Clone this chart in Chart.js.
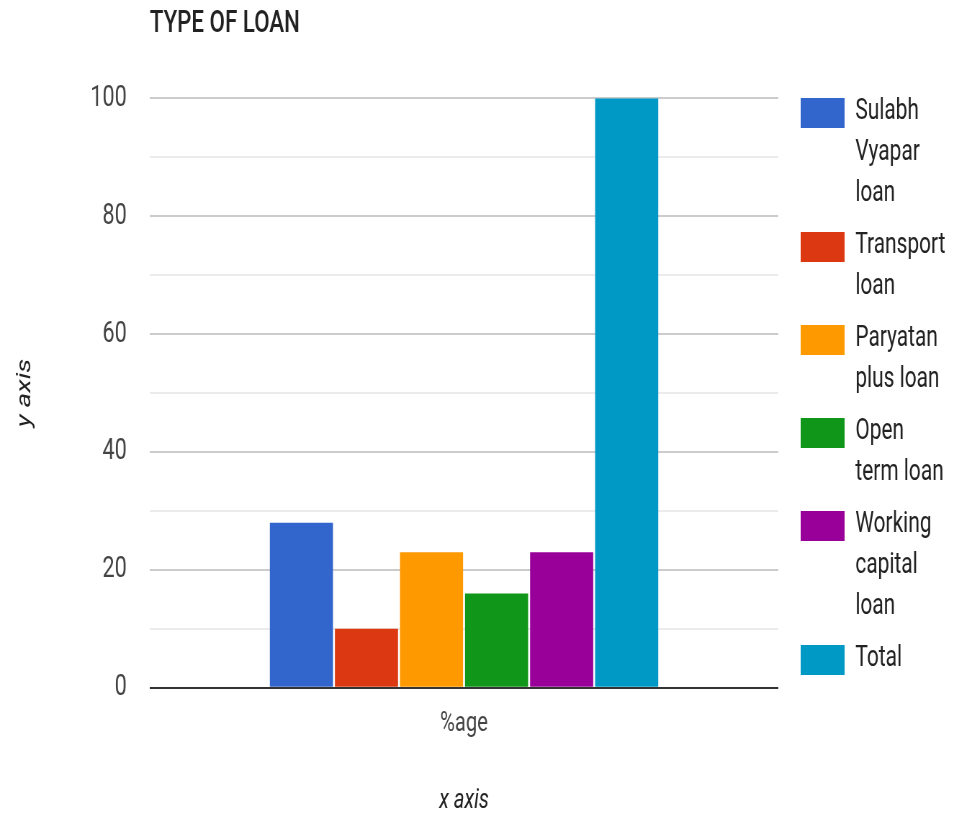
<!DOCTYPE html>
<html>
<head>
<meta charset="utf-8">
<title>Type of loan</title>
<script src="https://cdn.jsdelivr.net/npm/chart.js@4"></script>
<style>
    html, body { margin: 0; padding: 0; background: #fff; overflow: hidden; }
    /* chart is laid out wide, then squeezed to give the narrow lettering */
    #wrap { width: 1324px; height: 818px; transform: scaleX(0.72); transform-origin: 0 0; }
</style>
</head>
<body>
<div id="wrap"><canvas id="loanChart" width="1324" height="818"></canvas></div>
<script>
const categories = ["%age"];
const loan_types = ["Sulabh Vyapar loan", "Transport loan", "Paryatan plus loan", "Open term loan", "Working capital loan", "Total"];
const loan_share = [28, 10, 23, 16, 23, 100];
const bar_colors = ["#3366cc", "#dc3912", "#ff9900", "#109618", "#990099", "#0099c6"];
const y_labels = [0, 20, 40, 60, 80, 100];

// greedy word wrap for the legend text
function wrap_words(ctx, text, maxWidth)
{
    const words = text.split(" ");
    const lines = [];
    let line = "";
    for (let i = 0; i < words.length; i++)
    {
        const test = line ? line + " " + words[i] : words[i];
        if (line && ctx.measureText(test).width > maxWidth)
        {
            lines.push(line);
            line = words[i];
        }
        else
        {
            line = test;
        }
    }
    if (line) lines.push(line);
    return lines;
}

// legend on the right, with labels wrapped over several lines
const side_legend = {
    id: 'side_legend',
    afterDraw(chart) {
        const ctx = chart.ctx;
        const boxX = chart.chartArea.right + 31;
        const textX = boxX + 76;
        const lineH = 41;
        let y = 112;

        ctx.save();
        ctx.font = "29px Roboto";
        ctx.textBaseline = "middle";
        ctx.textAlign = "left";
        chart.data.datasets.forEach(ds => {
            const lines = wrap_words(ctx, ds.label, 130);
            ctx.fillStyle = ds.backgroundColor;
            ctx.fillRect(boxX, y - 14, 61, 30);
            ctx.fillStyle = "#222";
            lines.forEach((line, i) => ctx.fillText(line, textX, y + i * lineH));
            y += lines.length * lineH + 11;
        });
        ctx.restore();
    }
};

Chart.defaults.font.family = "Roboto";

const datasets = loan_types.map((label, i) => ({
    label: label,
    data: [loan_share[i]],
    backgroundColor: bar_colors[i],
    categoryPercentage: 0.621,
    barPercentage: 0.97
}));

const ctx = document.getElementById('loanChart').getContext('2d');

const loanChart = new Chart(ctx, {
    type: 'bar',
    data: {
        labels: categories,
        datasets: datasets
    },
    plugins: [side_legend],
    options: {
        responsive: false,
        animation: false,
        devicePixelRatio: 1,
        layout: {
            padding: { left: 0, right: 243, top: 0, bottom: 0 }
        },
        plugins: {
            legend: { display: false },
            tooltip: { enabled: false },
            title: {
                display: true,
                text: "TYPE OF LOAN",
                align: 'start',
                fullSize: false,
                color: '#222',
                font: { size: 31, weight: '500' },
                padding: { top: 6, bottom: 55 }
            }
        },
        scales: {
            x: {
                grid: { display: false },
                border: { display: false },
                ticks: {
                    color: '#444',
                    font: { size: 28 },
                    padding: 11
                },
                title: {
                    display: true,
                    text: "x axis",
                    color: '#222',
                    font: { size: 28, style: 'italic' },
                    padding: { top: 33, bottom: 0 }
                }
            },
            y: {
                min: 0,
                max: 100,
                afterFit(scale) {
                    scale.width = 208;
                },
                border: { display: false },
                grid: {
                    drawTicks: false,
                    lineWidth: 2,
                    color: function(c) {
                        const v = c.tick.value;
                        if (v === 0) return '#333';
                        return y_labels.includes(v) ? '#cccccc' : '#ebebeb';
                    }
                },
                ticks: {
                    stepSize: 10,
                    color: '#444',
                    font: { size: 30 },
                    padding: 32,
                    callback: function(value) {
                        return y_labels.includes(value) ? value : '';
                    }
                },
                title: {
                    display: true,
                    text: "y axis",
                    color: '#222',
                    font: { size: 28, style: 'italic' },
                    padding: { top: 18, bottom: 0 }
                }
            }
        }
    }
});
</script>
</body>
</html>
